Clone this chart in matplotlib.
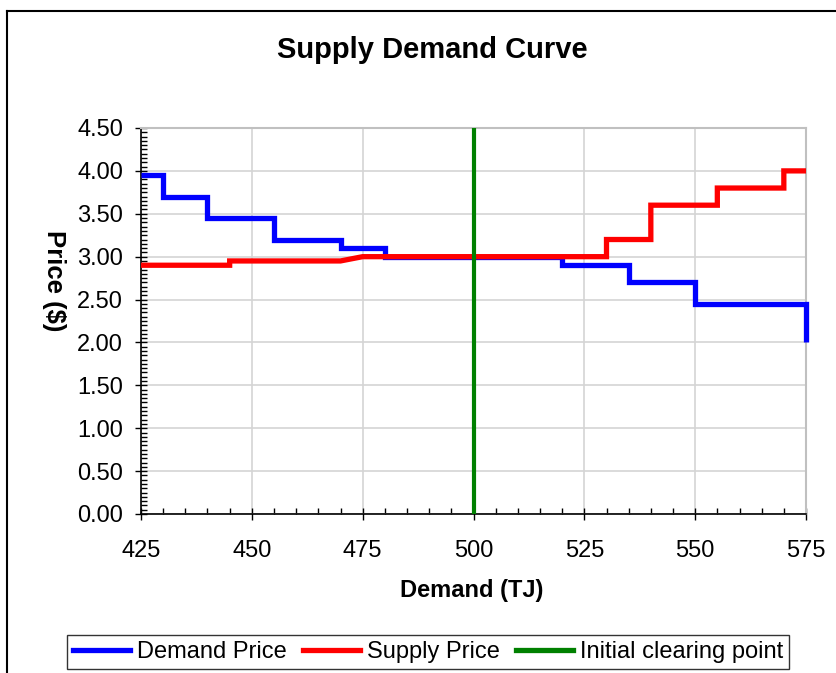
import matplotlib
matplotlib.use("Agg")
from matplotlib import pyplot as plt
from matplotlib.ticker import MultipleLocator, FormatStrFormatter
from matplotlib.lines import Line2D

plt.rcParams['font.family'] = ['Liberation Sans', 'DejaVu Sans']

# step vertices
demand_x = [425, 430, 430, 440, 440, 455, 455, 470, 470, 480, 480, 520, 520, 535, 535, 550, 550, 575, 575]
demand_y = [3.95, 3.95, 3.70, 3.70, 3.45, 3.45, 3.20, 3.20, 3.10, 3.10, 3.00, 3.00,
            2.90, 2.90, 2.70, 2.70, 2.45, 2.45, 2.00]

supply_x = [425, 445, 445, 470, 475, 530, 530, 540, 540, 555, 555, 570, 570, 575]
supply_y = [2.90, 2.90, 2.95, 2.95, 3.00, 3.00, 3.20, 3.20, 3.60, 3.60, 3.80, 3.80, 4.00, 4.00]

clearing_x = [500, 500]
clearing_y = [0.0, 4.5]

labels = ['Demand Price', 'Supply Price', 'Initial clearing point']
colors = ['#0000ff', '#ff0000', '#008000']

W, H = 837, 673
fig = plt.figure(figsize=(W / 100, H / 100), dpi=100)
ax = fig.add_axes([141 / W, 1 - 514 / H, (806 - 141) / W, (514 - 128) / H])

ax.plot(demand_x, demand_y, color=colors[0], lw=3.8, solid_joinstyle='miter',
        solid_capstyle='butt', clip_on=False, zorder=3)
ax.plot(supply_x, supply_y, color=colors[1], lw=3.8, solid_joinstyle='miter',
        solid_capstyle='butt', clip_on=False, zorder=4)
ax.plot(clearing_x, clearing_y, color=colors[2], lw=3.0, solid_capstyle='butt', zorder=5)

ax.set_xlim(425, 575)
ax.set_ylim(0, 4.5)
ax.xaxis.set_major_locator(MultipleLocator(25))
ax.xaxis.set_minor_locator(MultipleLocator(5))
ax.yaxis.set_major_locator(MultipleLocator(0.5))
ax.yaxis.set_minor_locator(MultipleLocator(0.05))
ax.yaxis.set_major_formatter(FormatStrFormatter('%.2f'))

ax.tick_params(which='major', direction='inout', length=8, width=1, labelsize=17, colors='black')
ax.tick_params(axis='x', which='major', pad=15)
ax.tick_params(axis='y', which='major', pad=9)
ax.tick_params(which='minor', direction='in', length=4, width=1)

ax.grid(True, which='major', color='#d4d4d4', lw=1.2)
ax.set_axisbelow(True)
for s in ['top', 'right']:
    ax.spines[s].set_color('#c0c0c0')
    ax.spines[s].set_linewidth(1.5)
for s in ['left', 'bottom']:
    ax.spines[s].set_color('black')
    ax.spines[s].set_linewidth(1.2)

fig.text(432 / W, 1 - 50 / H, 'Supply Demand Curve', ha='center', va='center',
         fontsize=21, fontweight='bold')
fig.text(472 / W, 1 - 590 / H, 'Demand (TJ)', ha='center', va='center',
         fontsize=17, fontweight='bold')
fig.text(54 / W, 1 - 281 / H, 'Price ($)', ha='center', va='center',
         fontsize=18.5, fontweight='bold', rotation=-90)

# outer chart frame
fig.add_artist(Line2D([7 / W, 7 / W], [0, 1 - 11 / H], color='black', lw=1.5))
fig.add_artist(Line2D([7 / W, 1], [1 - 11 / H, 1 - 11 / H], color='black', lw=1.5))

handles = [Line2D([], [], color=c, lw=3.8) for c in colors]
leg = fig.legend(handles, labels, ncol=3, loc='center', bbox_to_anchor=(428 / W, 1 - 652 / H),
                 fontsize=17, frameon=True, fancybox=False, edgecolor='black',
                 handlelength=2.4, handletextpad=0.3, columnspacing=0.7,
                 borderpad=0.25, borderaxespad=0)
leg.get_frame().set_linewidth(1.0)

fig.savefig('out.png', dpi=100)
